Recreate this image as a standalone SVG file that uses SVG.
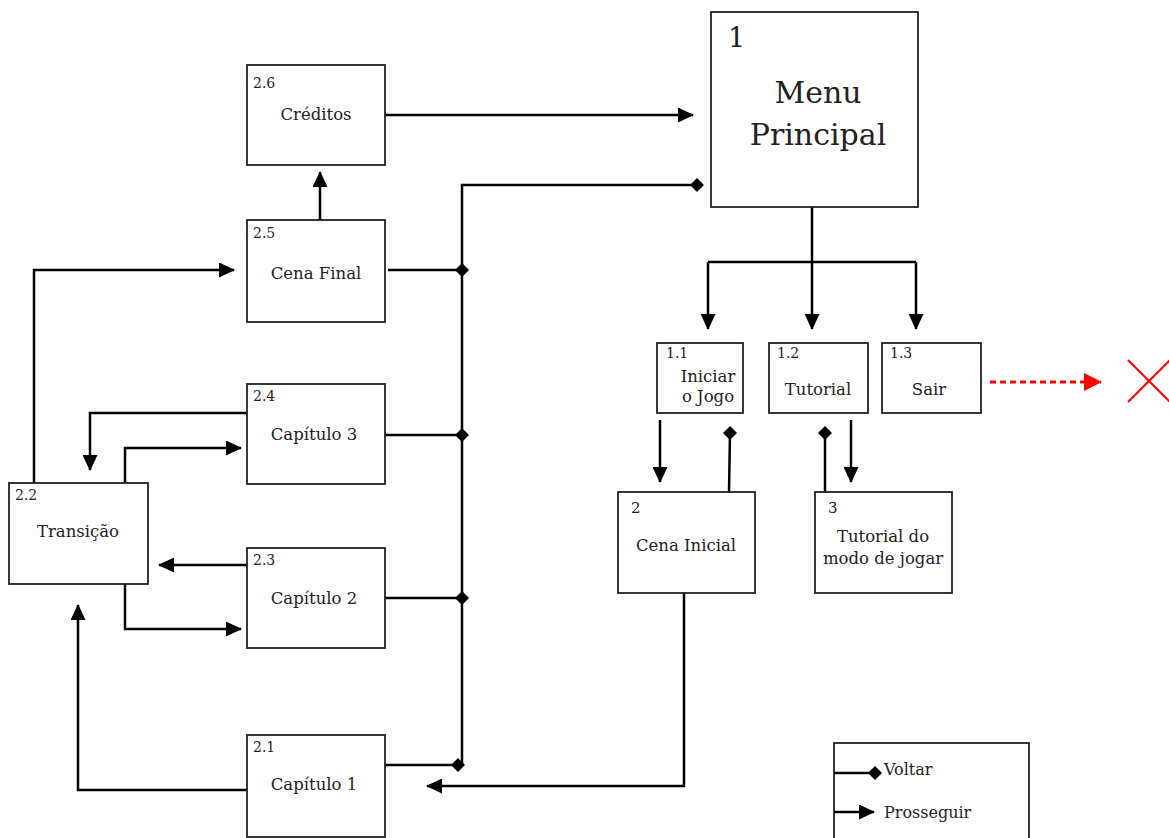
<svg xmlns="http://www.w3.org/2000/svg" width="1169" height="838" viewBox="0 0 1169 838">
  <defs>
    <marker id="arrow" markerUnits="userSpaceOnUse" markerWidth="16" markerHeight="15" viewBox="0 0 16 15" refX="15" refY="7.5" orient="auto">
      <path d="M0,0 L16,7.5 L0,15 Z" fill="#000"/>
    </marker>
    <marker id="diamond" markerUnits="userSpaceOnUse" markerWidth="14" markerHeight="14" viewBox="0 0 14 14" refX="7" refY="7" orient="auto">
      <path d="M0,7 L7,0 L14,7 L7,14 Z" fill="#000"/>
    </marker>
    <marker id="redArrow" markerUnits="userSpaceOnUse" markerWidth="18" markerHeight="18" viewBox="0 0 18 18" refX="17" refY="9" orient="auto">
      <path d="M0,0 L18,9 L0,18 Z" fill="#f00"/>
    </marker>
  </defs>
  <style>
    .box { fill: #fff; stroke: #222; stroke-width: 1.8; }
    .lbl { font-family: "DejaVu Serif", "Liberation Serif", serif; font-size: 16.5px; fill: #222; text-anchor: middle; }
    .num { font-family: "DejaVu Serif", "Liberation Serif", serif; font-size: 14px; fill: #222; }
    .go { fill: none; stroke: #000; stroke-width: 2.5; marker-end: url(#arrow); }
    .back { fill: none; stroke: #000; stroke-width: 2.5; marker-end: url(#diamond); }
    .wire { fill: none; stroke: #000; stroke-width: 2.5; }
  </style>

  <rect width="1169" height="838" fill="#fff"/>

  <!-- connectors -->
  <g id="connectors">
    <!-- return bus to the main menu -->
    <path class="back" d="M462,765 L462,185 L697,185"/>
    <path class="back" d="M388,270 L462,270"/>
    <path class="back" d="M385,435 L462,435"/>
    <path class="back" d="M385,598 L462,598"/>
    <path class="back" d="M385,765 L458,765"/>
    <!-- credits to menu -->
    <path class="go" d="M385,115 L693,115"/>
    <!-- final scene to credits -->
    <path class="go" d="M320,220 L320,172"/>
    <!-- transition routes -->
    <path class="go" d="M34,483 L34,270 L234,270"/>
    <path class="go" d="M247,413 L90,413 L90,470"/>
    <path class="go" d="M125,483 L125,448 L241,448"/>
    <path class="go" d="M247,565 L159,565"/>
    <path class="go" d="M125,584 L125,629 L241,629"/>
    <path class="go" d="M247,790 L78,790 L78,605"/>
    <!-- opening scene to chapter 1 -->
    <path class="go" d="M684,593 L684,786 L427,786"/>
    <!-- menu options -->
    <path class="wire" d="M708,262 L916,262"/>
    <path class="go" d="M812,207 L812,329"/>
    <path class="go" d="M708,262 L708,329"/>
    <path class="go" d="M916,262 L916,329"/>
    <!-- start game / tutorial links -->
    <path class="go" d="M660,420 L660,482"/>
    <path class="back" d="M729,492 L730,433"/>
    <path class="back" d="M825,492 L825,433"/>
    <path class="go" d="M851,420 L851,482"/>
    <!-- exit -->
    <path d="M990,382 L1101,382" fill="none" stroke="#f00" stroke-width="3" stroke-dasharray="6,4" marker-end="url(#redArrow)"/>
  </g>

  <!-- exit mark -->
  <g id="exit-mark" stroke="#f00" stroke-width="2.2">
    <line x1="1128" y1="360" x2="1170" y2="402"/>
    <line x1="1128" y1="402" x2="1170" y2="360"/>
  </g>

  <g id="menu-principal">
    <rect class="box" x="711" y="12" width="207" height="195"/>
    <text x="728" y="47" style="font-family:'DejaVu Serif','Liberation Serif',serif;font-size:27px;fill:#222">1</text>
    <text class="lbl" x="818" y="103" style="font-size:30px">Menu</text>
    <text class="lbl" x="818" y="145" style="font-size:30px">Principal</text>
  </g>

  <g id="creditos">
    <rect class="box" x="247" y="65" width="138" height="100"/>
    <text class="num" x="253" y="88">2.6</text>
    <text class="lbl" x="316" y="120">Créditos</text>
  </g>

  <g id="cena-final">
    <rect class="box" x="247" y="220" width="138" height="102"/>
    <text class="num" x="253" y="238">2.5</text>
    <text class="lbl" x="316" y="279">Cena Final</text>
  </g>

  <g id="capitulo-3">
    <rect class="box" x="247" y="384" width="138" height="100"/>
    <text class="num" x="253" y="401">2.4</text>
    <text class="lbl" x="314" y="440">Capítulo 3</text>
  </g>

  <g id="transicao">
    <rect class="box" x="9" y="483" width="139" height="101"/>
    <text class="num" x="15" y="500">2.2</text>
    <text class="lbl" x="78" y="537">Transição</text>
  </g>

  <g id="capitulo-2">
    <rect class="box" x="247" y="548" width="138" height="100"/>
    <text class="num" x="253" y="565">2.3</text>
    <text class="lbl" x="314" y="604">Capítulo 2</text>
  </g>

  <g id="capitulo-1">
    <rect class="box" x="247" y="735" width="138" height="102"/>
    <text class="num" x="253" y="752">2.1</text>
    <text class="lbl" x="314" y="790">Capítulo 1</text>
  </g>

  <g id="iniciar-jogo">
    <rect class="box" x="657" y="343" width="86" height="70"/>
    <text class="num" x="666" y="358">1.1</text>
    <text class="lbl" x="708" y="382">Iniciar</text>
    <text class="lbl" x="708" y="402">o Jogo</text>
  </g>

  <g id="tutorial">
    <rect class="box" x="769" y="343" width="99" height="70"/>
    <text class="num" x="777" y="358">1.2</text>
    <text class="lbl" x="818" y="395">Tutorial</text>
  </g>

  <g id="sair">
    <rect class="box" x="882" y="343" width="99" height="70"/>
    <text class="num" x="890" y="358">1.3</text>
    <text class="lbl" x="929" y="395">Sair</text>
  </g>

  <g id="cena-inicial">
    <rect class="box" x="618" y="492" width="137" height="101"/>
    <text class="num" x="631" y="513" style="font-size:15px">2</text>
    <text class="lbl" x="686" y="551">Cena Inicial</text>
  </g>

  <g id="tutorial-modo">
    <rect class="box" x="815" y="492" width="137" height="101"/>
    <text class="num" x="828" y="513" style="font-size:15px">3</text>
    <text class="lbl" x="883" y="542">Tutorial do</text>
    <text class="lbl" x="883" y="564">modo de jogar</text>
  </g>

  <g id="legend">
    <rect class="box" x="834" y="743" width="195" height="100"/>
    <path class="back" d="M834,773 L875,773"/>
    <text class="num" x="884" y="775" style="font-size:16px">Voltar</text>
    <path class="go" d="M834,812 L874,812"/>
    <text class="num" x="884" y="818" style="font-size:16px">Prosseguir</text>
  </g>
</svg>
